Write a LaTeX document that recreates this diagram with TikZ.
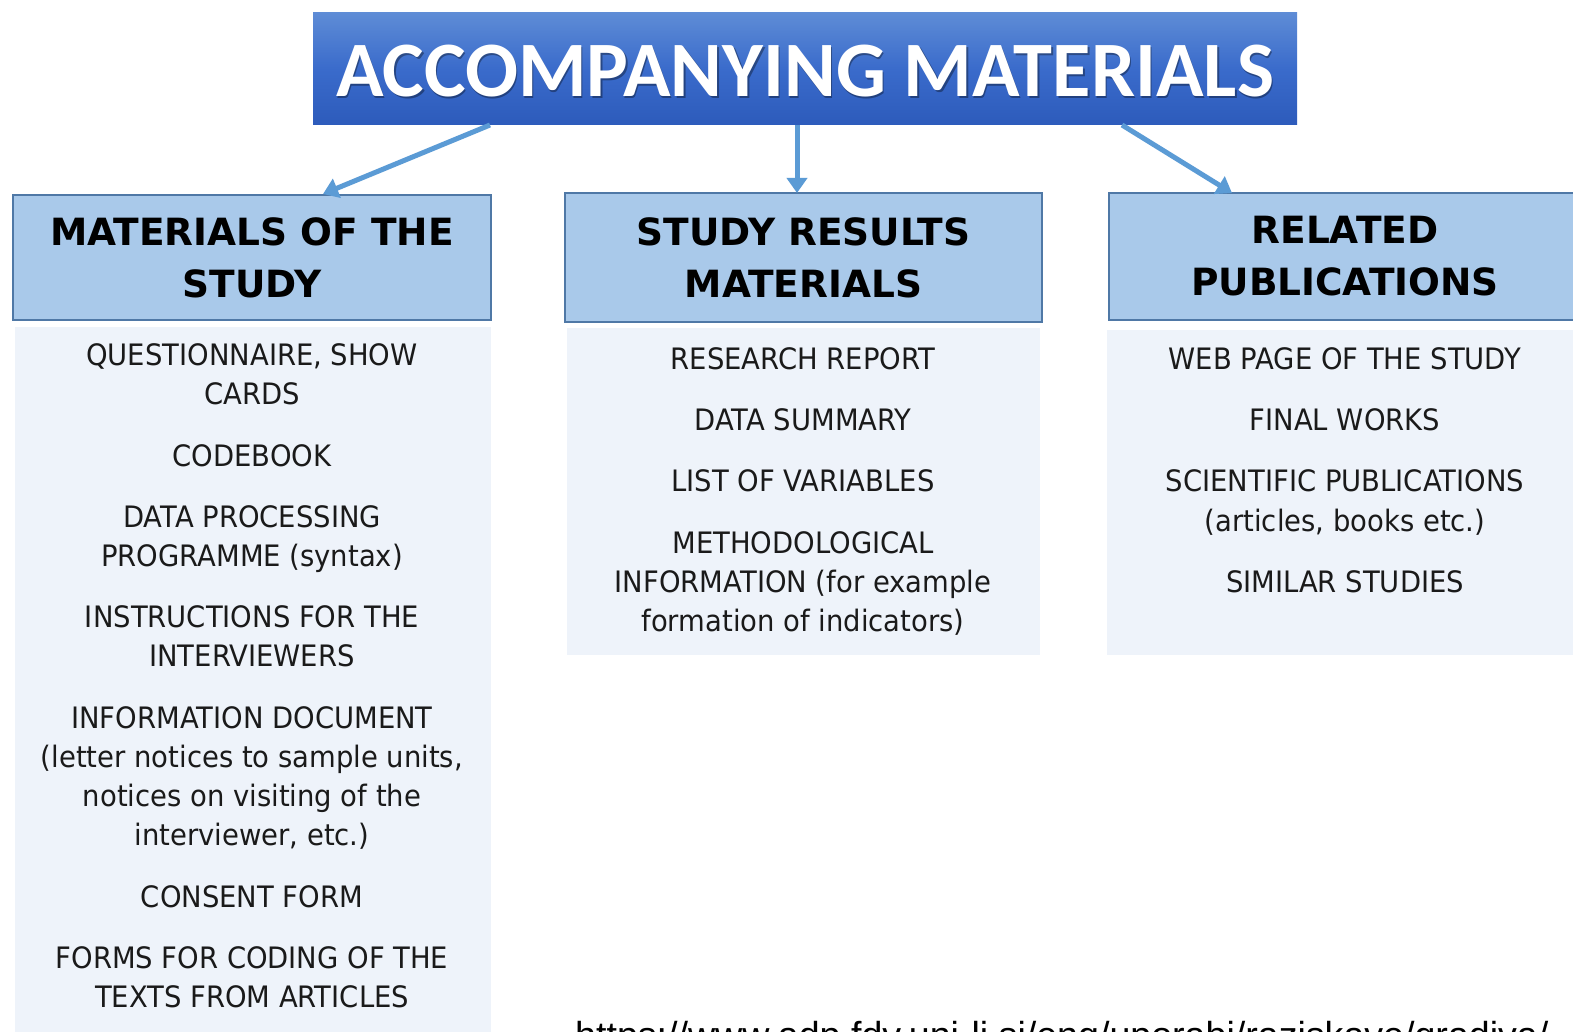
\documentclass[tikz,border=0pt]{standalone}
\usepackage{fontspec}
\setmainfont{DejaVu Sans}
\newfontfamily\titlefont{Carlito}
\newfontfamily\headfont{DejaVu Sans}
\newfontfamily\bodyfont[FakeStretch=0.93]{DejaVu Sans}
\newfontfamily\urlfont{Liberation Sans}
\usetikzlibrary{arrows.meta}

\definecolor{titletop}{HTML}{5E8CD6}
\definecolor{titlemid}{HTML}{3A6BCB}
\definecolor{titlebot}{HTML}{2D5BBB}
\definecolor{headfill}{HTML}{A9C9EA}
\definecolor{headdraw}{HTML}{4F78A6}
\definecolor{panelfill}{HTML}{EEF3FA}
\definecolor{linkblue}{HTML}{5B9BD5}
\definecolor{bodytext}{HTML}{1A1A1A}

\tikzset{
  headbox/.style={draw=headdraw, line width=1.2pt, fill=headfill, inner sep=0pt,
    align=center, font=\headfont\bfseries\fontsize{37.5}{52}\selectfont},
  panel/.style={fill=panelfill, draw=none, inner sep=0pt},
  itemline/.style={anchor=base, inner sep=0pt, text=bodytext,
    font=\bodyfont\fontsize{29.5}{39}\selectfont},
  link/.style={draw=linkblue, line width=5pt,
    -{Triangle[length=15pt,width=20pt]}},
}

\begin{document}
\begin{tikzpicture}[x=1pt,y=-1pt]
\useasboundingbox (0,0) rectangle (1573,1032);
\fill[white] (0,0) rectangle (1573,1032);

% title banner
\node[minimum width=984pt, minimum height=112pt, inner sep=0pt,
  top color=titletop, bottom color=titlebot, middle color=titlemid]
  (title) at (805,69) {};
\node[text=black, opacity=0.35, font=\titlefont\bfseries\fontsize{78.5}{80}\selectfont]
  (titleshadow) at (806.5,73.5) {ACCOMPANYING MATERIALS};
\node[text=white, font=\titlefont\bfseries\fontsize{78.5}{80}\selectfont]
  (titletext) at (805,71) {ACCOMPANYING MATERIALS};

% text panels
\node[panel, minimum width=476pt, minimum height=713pt] (pleft) at (253,683.5) {};
\node[panel, minimum width=473pt, minimum height=327pt] (pmid) at (803.5,491.5) {};
\node[panel, minimum width=474pt, minimum height=325pt] (pright) at (1344,492.5) {};

% category headers
\node[headbox, minimum width=478pt, minimum height=125pt] (hleft) at (252,257.5)
  {MATERIALS OF THE\\STUDY};
\node[headbox, minimum width=477pt, minimum height=129pt] (hmid) at (803.5,257.5)
  {STUDY RESULTS\\MATERIALS};
\node[headbox, minimum width=472pt, minimum height=127pt] (hright) at (1345,256.5)
  {RELATED\\PUBLICATIONS};

% connectors
\coordinate (sA) at (490,125);
\coordinate (sB) at (797,125);
\coordinate (sC) at (1122,125);
\coordinate (eA) at (323,194);
\coordinate (eB) at (797,193);
\coordinate (eC) at (1232,193);
\draw[link] (sA) -- (eA);
\draw[link] (sB) -- (eB);
\draw[link] (sC) -- (eC);

% items, one line per node (baselines)
\foreach \y/\t [count=\i] in {
  365/{QUESTIONNAIRE, SHOW}, 404/{CARDS}, 466/{CODEBOOK},
  527/{DATA PROCESSING}, 566/{PROGRAMME (syntax)},
  627/{INSTRUCTIONS FOR THE}, 666/{INTERVIEWERS},
  728/{INFORMATION DOCUMENT}, 767/{(letter notices to sample units,},
  806/{notices on visiting of the}, 845/{interviewer, etc.)},
  907/{CONSENT FORM},
  968/{FORMS FOR CODING OF THE}, 1007/{TEXTS FROM ARTICLES}}
  \node[itemline] (left\i) at (252,\y) {\t};

\foreach \y/\t [count=\i] in {
  369/{RESEARCH REPORT}, 430/{DATA SUMMARY}, 491/{LIST OF VARIABLES},
  553/{METHODOLOGICAL}, 592/{INFORMATION (for example},
  631/{formation of indicators)}}
  \node[itemline] (mid\i) at (803,\y) {\t};

\foreach \y/\t [count=\i] in {
  369/{WEB PAGE OF THE STUDY}, 430/{FINAL WORKS},
  491/{SCIENTIFIC PUBLICATIONS}, 531/{(articles, books etc.)},
  592/{SIMILAR STUDIES}}
  \node[itemline] (right\i) at (1345,\y) {\t};

% source line
\node[anchor=base west, inner sep=0pt, text=black,
  font=\urlfont\fontsize{37.6}{40}\selectfont] (source) at (575,1048)
  {https://www.adp.fdv.uni-lj.si/eng/uporabi/raziskave/gradiva/};
\end{tikzpicture}
\end{document}
